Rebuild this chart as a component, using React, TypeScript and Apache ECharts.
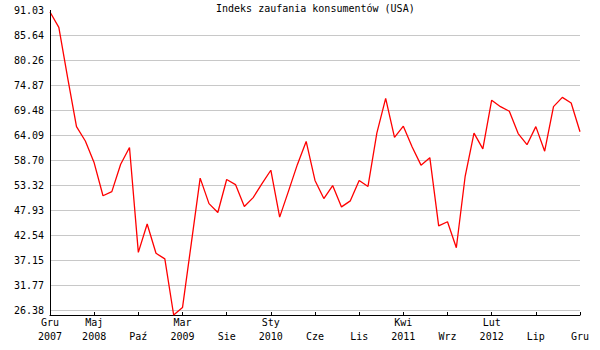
import React, { useEffect, useRef } from "react";
import * as echarts from "echarts";

const title = "Indeks zaufania konsumentów (USA)";

const monthNames = ["Sty", "Lut", "Mar", "Kwi", "Maj", "Cze", "Lip", "Sie", "Wrz", "Paź", "Lis", "Gru"];

// Monthly categories Dec 2007 .. Dec 2012
const categories: string[] = [];
categories.push("Gru 2007");
for (let y = 2008; y <= 2012; y++) {
  for (let m = 0; m < 12; m++) categories.push(monthNames[m] + " " + y);
}

const values = [
  90.6, 87.3, 76.4, 65.9, 62.8, 58.1, 51.0, 51.9, 57.8, 61.4, 38.8, 44.9,
  38.6, 37.4, 25.3, 26.9, 40.8, 54.8, 49.3, 47.4, 54.5, 53.4, 48.7, 50.6,
  53.6, 56.5, 46.4, 52.0, 57.7, 62.7, 54.3, 50.4, 53.2, 48.6, 49.9, 54.3,
  53.0, 64.5, 72.0, 63.6, 66.0, 61.5, 57.6, 59.2, 44.5, 45.4, 39.8, 55.2,
  64.5, 61.1, 71.6, 70.2, 69.2, 64.4, 62.0, 65.9, 60.6, 70.2, 72.2, 71.0,
  64.8,
];

const xTickLabels = [
  "Gru\n2007", "Maj\n2008", "\nPaź", "Mar\n2009", "\nSie", "Sty\n2010", "\nCze",
  "\nLis", "Kwi\n2011", "\nWrz", "Lut\n2012", "\nLip", "\nGru",
];

const yTickLabels = [
  "26.38", "31.77", "37.15", "42.54", "47.93", "53.32", "58.70",
  "64.09", "69.48", "74.87", "80.26", "85.64", "91.03",
];

const yMin = 26.38;
const yMax = 91.03;
const yStep = (yMax - yMin) / 12;
const font = "DejaVu Sans Mono";

export default function App() {
  const ref = useRef<HTMLDivElement>(null);
  useEffect(() => {
    if (!ref.current) return;
    const chart = echarts.init(ref.current, undefined, { renderer: "svg" });
    chart.setOption({
      animation: false,
      backgroundColor: "#ffffff",
      title: {
        text: title,
        left: 216,
        top: 3,
        padding: 0,
        textStyle: { fontFamily: font, fontSize: 10, fontWeight: "normal", color: "#000" },
      },
      grid: { left: 50, right: 20, top: 10, bottom: 40, containLabel: false },
      xAxis: {
        type: "category",
        data: categories,
        boundaryGap: false,
        offset: 5,
        axisLine: { show: true, onZero: false, lineStyle: { color: "#000", width: 1 } },
        axisTick: { show: true, inside: true, length: 3, interval: 4, lineStyle: { color: "#000" } },
        axisLabel: {
          interval: 4,
          margin: 1,
          fontFamily: font,
          fontSize: 10,
          lineHeight: 13.5,
          color: "#000",
          formatter: (_v: string, i: number) => xTickLabels[Math.round(i / 5)] ?? "",
        },
        splitLine: { show: false },
      },
      yAxis: {
        type: "value",
        min: yMin,
        max: yMax,
        interval: yStep,
        axisLine: { show: false },
        axisTick: { show: false },
        axisLabel: {
          margin: 6,
          fontFamily: font,
          fontSize: 10,
          color: "#000",
          formatter: (v: number) => yTickLabels[Math.round((v - yMin) / yStep)] ?? "",
        },
        splitLine: { show: true, showMaxLine: false, lineStyle: { color: "#c8c8c8", width: 1 } },
      },
      graphic: [
        {
          type: "line",
          shape: { x1: 50.5, y1: 10, x2: 50.5, y2: 315 },
          style: { stroke: "#000", lineWidth: 1 },
          z: 10,
        },
      ],
      series: [
        {
          type: "line",
          data: values,
          clip: false,
          symbol: "none",
          lineStyle: { color: "#ff0000", width: 1.3 },
          itemStyle: { color: "#ff0000" },
        },
      ],
    });
    return () => chart.dispose();
  }, []);
  return (
    <div
      ref={ref}
      style={{ position: "absolute", left: 0, top: 0, width: 600, height: 350 }}
    />
  );
}
